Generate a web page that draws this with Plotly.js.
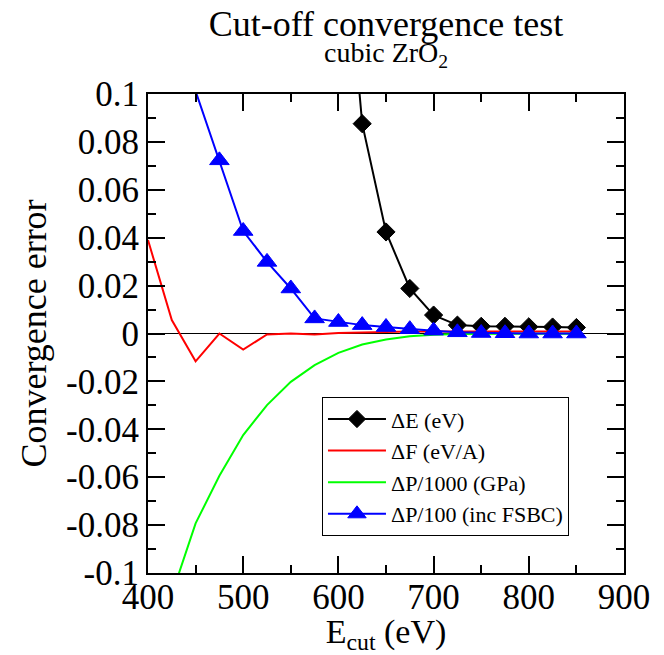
<!DOCTYPE html>
<html>
<head>
<meta charset="utf-8">
<script src="https://cdn.plot.ly/plotly-3.0.1.min.js"></script>
<style>html,body{margin:0;padding:0;background:#fff;}#chart{width:664px;height:655px;}</style>
</head>
<body>
<div id="chart"></div>
<script>
// Cut-off energies (eV)
const ecut = [400, 425, 450, 475, 500, 525, 550, 575, 600, 625, 650, 675, 700, 725, 750, 775, 800, 825, 850];

// Delta E (eV)  -- values before 600 are off the chart
const dE = [null, null, null, null, null, null, null, null, 0.2, 0.0876, 0.0424, 0.0188, 0.0077, 0.0035, 0.003, 0.003, 0.0028, 0.0027, 0.0025];
// Delta F (eV/A)
const dF = [0.039, 0.0056, -0.0116, 0.0, -0.0067, -0.0004, 0.0, -0.0004, 0.0002, 0.0005, 0.0008, 0.0008, 0.0008, 0.0008, 0.0008, 0.0008, 0.0008, 0.0008, 0.0008];
// Delta P / 1000 (GPa)
const dP1000 = [null, -0.109, -0.0793, -0.0594, -0.0424, -0.0299, -0.0202, -0.0132, -0.0081, -0.0046, -0.0025, -0.0012, -0.0005, -0.0002, -0.0001, -0.0001, -0.0001, -0.0001, -0.0001];
// Delta P / 100 (inc FSBC)
const dP100 = [null, null, 0.1012, 0.0723, 0.0428, 0.0299, 0.0188, 0.0063, 0.0048, 0.0035, 0.0027, 0.0018, 0.0012, 0.0005, 0.0002, 0.0001, 0.0, 0.0, 0.0];

const yTickVals = [-0.1, -0.08, -0.06, -0.04, -0.02, 0, 0.02, 0.04, 0.06, 0.08, 0.1];
const yTickText = ["-0.1", "-0.08", "-0.06", "-0.04", "-0.02", "0", "0.02", "0.04", "0.06", "0.08", "0.1"];

const seriesNames = ["\u0394E (eV)", "\u0394F (eV/A)", "\u0394P/1000 (GPa)", "\u0394P/100 (inc FSBC)"];
const titleText = "Cut-off convergence test";
const subtitleText = "cubic ZrO<sub>2</sub>";

const FONT = "'Liberation Serif', 'Times New Roman', 'DejaVu Serif', serif";
const Y_MIN = -0.1, Y_MAX = 0.1;
// xmgrace-like: symbols whose centre lies outside the axis range are not drawn
function sizesFor(vals, s) { return vals.map(v => (v !== null && (v > Y_MAX || v < Y_MIN)) ? 0 : s); }

const traces = [
  {x: ecut, y: dE, name: seriesNames[0], mode: "lines+markers",
   line: {color: "#000000", width: 2},
   marker: {symbol: "diamond", color: "#000000", opacity: 1, size: sizesFor(dE, 14), line: {color: "#000000", width: 1}}},
  {x: ecut, y: dF, name: seriesNames[1], mode: "lines",
   line: {color: "#ff0000", width: 2}},
  {x: ecut, y: dP1000, name: seriesNames[2], mode: "lines",
   line: {color: "#00ff00", width: 2}},
  {x: ecut, y: dP100, name: seriesNames[3], mode: "lines+markers",
   line: {color: "#0000ff", width: 2},
   marker: {symbol: "triangle-up", color: "#0000ff", opacity: 1, size: sizesFor(dP100, 17), line: {color: "#0000ff", width: 1}}}
];

const layout = {
  width: 664, height: 655,
  margin: {l: 148, r: 40, t: 94, b: 82},
  paper_bgcolor: "#ffffff", plot_bgcolor: "#ffffff",
  font: {family: FONT, color: "#000000", size: 34},
  title: {
    text: titleText,
    font: {family: FONT, size: 36, color: "#000000"},
    xref: "paper", x: 0.5, xanchor: "center",
    yref: "container", y: 1 - 23 / 655, yanchor: "middle"
  },
  annotations: [{
    text: subtitleText, showarrow: false,
    xref: "paper", x: 0.5, xanchor: "center",
    yref: "paper", y: (479 - (55 - 94)) / 479, yanchor: "middle",
    font: {family: FONT, size: 28, color: "#000000"}
  }],
  xaxis: {
    range: [400, 900], dtick: 100, tick0: 0,
    ticks: "inside", ticklen: 17, tickwidth: 2, tickcolor: "#000000",
    minor: {dtick: 50, tick0: 0, ticks: "inside", ticklen: 8, tickwidth: 2, tickcolor: "#000000"},
    showline: true, linewidth: 2, linecolor: "#000000", mirror: "ticks",
    showgrid: false, zeroline: false,
    ticklabelstandoff: -8,
    tickfont: {family: FONT, size: 35, color: "#000000"},
    title: {text: "E<sub>cut</sub> (eV)", font: {family: FONT, size: 34}, standoff: 8}
  },
  yaxis: {
    range: [Y_MIN, Y_MAX], tickmode: "array", tickvals: yTickVals, ticktext: yTickText,
    ticks: "inside", ticklen: 17, tickwidth: 2, tickcolor: "#000000",
    minor: {dtick: 0.01, tick0: 0, ticks: "inside", ticklen: 8, tickwidth: 2, tickcolor: "#000000"},
    showline: true, linewidth: 2, linecolor: "#000000", mirror: "ticks",
    showgrid: false, zeroline: true, zerolinecolor: "#000000", zerolinewidth: 1,
    tickfont: {family: FONT, size: 35, color: "#000000"},
    title: {text: "Convergence error", font: {family: FONT, size: 36}, standoff: 8}
  },
  showlegend: true,
  legend: {
    x: 0.3655, y: 0.367, xanchor: "left", yanchor: "top",
    bgcolor: "#ffffff", bordercolor: "#000000", borderwidth: 1,
    font: {family: FONT, size: 22, color: "#000000"},
    itemwidth: 58, tracegroupgap: 0
  }
};

Plotly.newPlot("chart", traces, layout, {staticPlot: true, displayModeBar: false});
</script>
</body>
</html>
